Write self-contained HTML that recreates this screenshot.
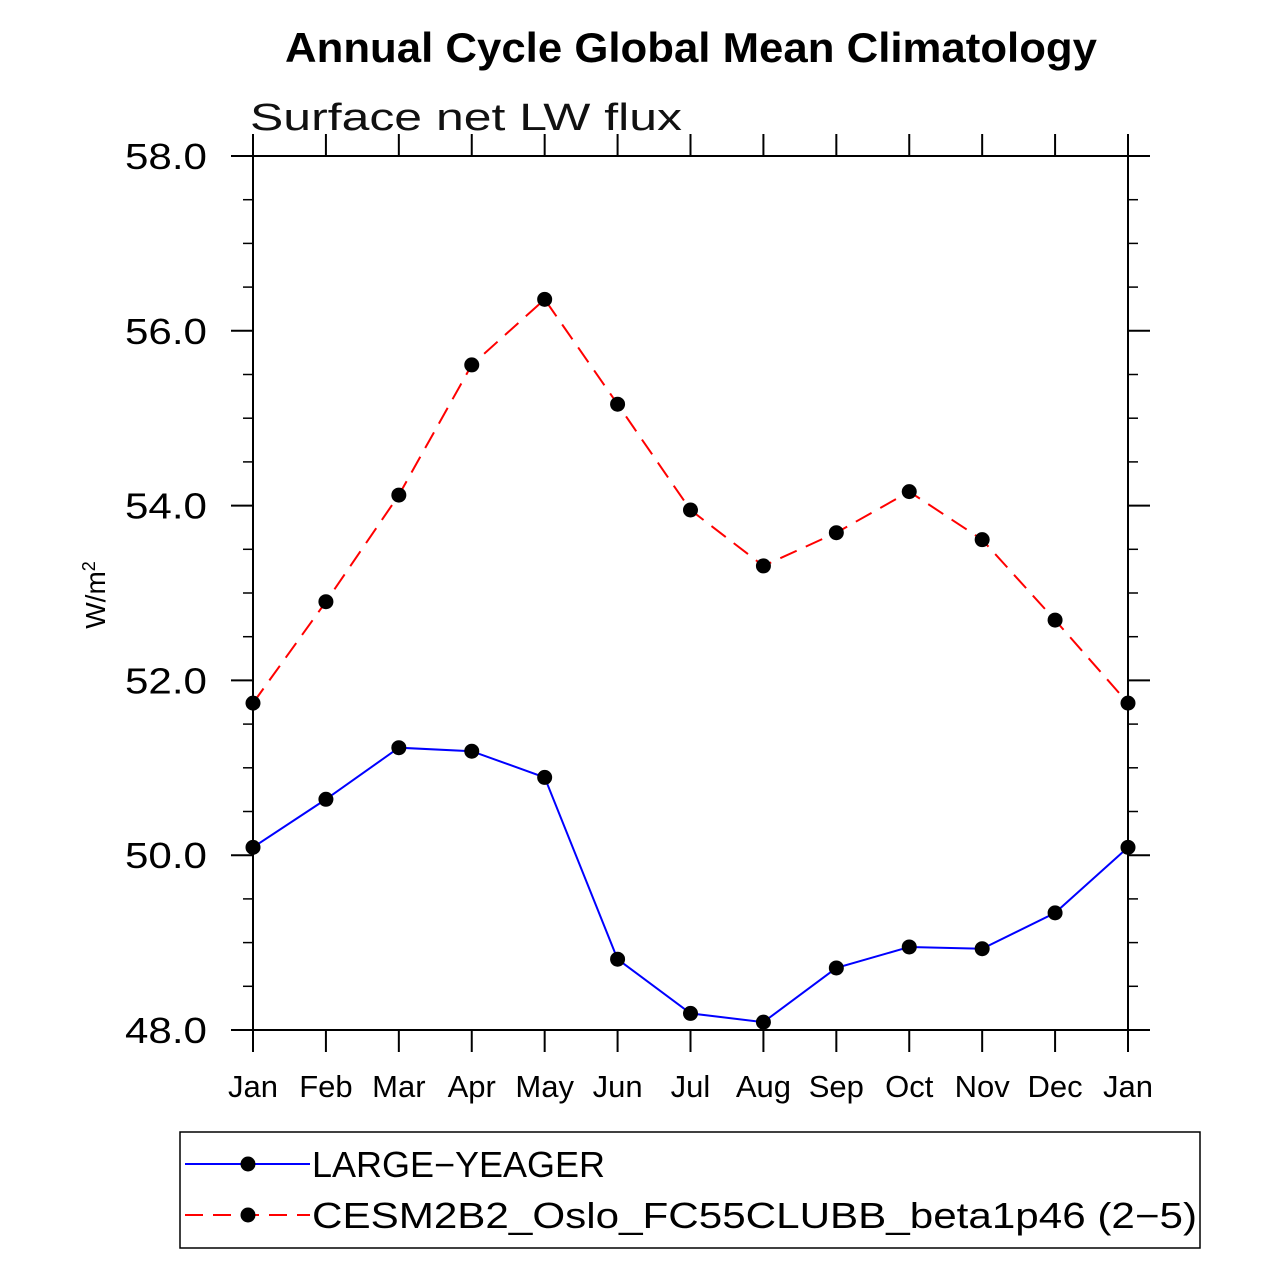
<!DOCTYPE html>
<html><head><meta charset="utf-8"><style>
body{margin:0;background:#fff}
svg text{font-family:"Liberation Sans","DejaVu Sans",sans-serif}
</style></head><body>
<svg id="c" width="1279" height="1279" viewBox="0 0 1279 1279">
<text x="285" y="62" textLength="812" lengthAdjust="spacingAndGlyphs" font-size="42" font-weight="bold">Annual Cycle Global Mean Climatology</text>
<text x="250" y="130" textLength="432" lengthAdjust="spacingAndGlyphs" font-size="38" font-weight="300" fill="#111">Surface net LW flux</text>
<text transform="translate(105,595) rotate(-90)" text-anchor="middle" font-size="28">W/m<tspan dy="-10" font-size="18">2</tspan></text>
<g id="axes"></g>
<g id="series"></g>
<rect x="180" y="1132" width="1020" height="116" fill="none" stroke="#000" stroke-width="1.5"/>
<g>
<line x1="185" y1="1164" x2="310" y2="1164" stroke="#00f" stroke-width="2"/>
<circle cx="248" cy="1164" r="7.5"/>
<text x="312" y="1177" textLength="293" lengthAdjust="spacingAndGlyphs" font-size="36" font-weight="300">LARGE−YEAGER</text></g>
<g>
<line x1="185" y1="1215" x2="310" y2="1215" stroke="#f00" stroke-width="2" stroke-dasharray="18,10"/>
<circle cx="248" cy="1215" r="7.5"/>
<text x="312" y="1228" textLength="885" lengthAdjust="spacingAndGlyphs" font-size="36" font-weight="300">CESM2B2_Oslo_FC55CLUBB_beta1p46 (2−5)</text></g>
</svg>
<script>
const months=["Jan","Feb","Mar","Apr","May","Jun","Jul","Aug","Sep","Oct","Nov","Dec","Jan"];
const largeYeager=[50.09,50.64,51.23,51.19,50.89,48.81,48.19,48.09,48.71,48.95,48.93,49.34,50.09];
const cesm=[51.74,52.90,54.12,55.61,56.36,55.16,53.95,53.31,53.69,54.16,53.61,52.69,51.74];
const yTicks=[48,50,52,54,56,58];
const yTickLabels=["48.0","50.0","52.0","54.0","56.0","58.0"];
const NS="http://www.w3.org/2000/svg";
const X0=253,X1=1128,Y0=1030,Y1=156,YMIN=48,YMAX=58;
const xs=i=>X0+i*(X1-X0)/(months.length-1);
const ys=v=>Y0-(v-YMIN)*(Y0-Y1)/(YMAX-YMIN);
function mk(t,a,p){const e=document.createElementNS(NS,t);for(const k in a)e.setAttribute(k,a[k]);p.appendChild(e);return e;}
const ax=document.getElementById('axes');
const fr=mk('rect',{x:X0,y:Y1,width:X1-X0,height:Y0-Y1,fill:'none',stroke:'#000','stroke-width':2},ax);


months.forEach((m,i)=>{const x=xs(i);
mk('line',{x1:x,x2:x,y1:Y0,y2:Y0+22,stroke:'#000','stroke-width':2},ax);
mk('line',{x1:x,x2:x,y1:Y1,y2:Y1-22,stroke:'#000','stroke-width':2},ax);
const t=mk('text',{x:x,y:1097,'text-anchor':'middle','font-size':31,'font-weight':300},ax);t.textContent=m;

});
for(let v=YMIN;v<=YMAX+1e-9;v+=0.5){const y=ys(v);const major=Math.abs(v%2)<1e-9;const L=major?22:10;
mk('line',{x1:X0-L,x2:X0,y1:y,y2:y,stroke:'#000','stroke-width':major?2:1.5},ax);
mk('line',{x1:X1,x2:X1+L,y1:y,y2:y,stroke:'#000','stroke-width':major?2:1.5},ax);}
yTicks.forEach((v,i)=>{const t=mk('text',{x:125,y:ys(v)+13,'font-size':36,'font-weight':300,textLength:82,lengthAdjust:'spacingAndGlyphs'},ax);t.textContent=yTickLabels[i];

});
const sg=document.getElementById('series');
function draw(d,col,dash,name){const g=mk('g',{},sg);


mk('polyline',{points:d.map((v,i)=>xs(i)+','+ys(v)).join(' '),fill:'none',stroke:col,'stroke-width':2,'stroke-dasharray':dash},g);
d.forEach((v,i)=>mk('circle',{cx:xs(i),cy:ys(v),r:7.5,fill:'#000'},g));}
draw(cesm,'#f00','18,10','series-cesm2b2');
draw(largeYeager,'#00f','none','series-large-yeager');
</script>
</body></html>
